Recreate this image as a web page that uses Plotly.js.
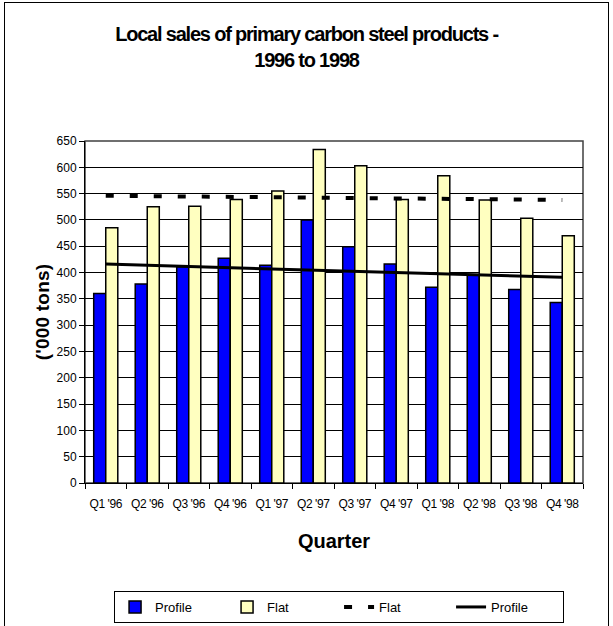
<!DOCTYPE html>
<html>
<head>
<meta charset="utf-8">
<script src="https://cdn.plot.ly/plotly-3.0.1.min.js"></script>
<style>
  html, body { margin: 0; padding: 0; overflow: hidden; background: #fff; width: 613px; height: 626px; }
  #frame { position: absolute; left: 4px; top: 2px; width: 603px; height: 660px; border: 1.5px solid #000; }
  #chart { width: 603px; height: 660px; }
  #chart .gtitle { letter-spacing: -1.2px; }
  #chart .ytitle { letter-spacing: 0.2px; }
  #chart .xtick text { letter-spacing: -0.4px; }
</style>
</head>
<body>
<div id="frame"><div id="chart"></div></div>
<script>
// Data ('000 tons)
const quarters = ["Q1 '96", "Q2 '96", "Q3 '96", "Q4 '96", "Q1 '97", "Q2 '97",
                  "Q3 '97", "Q4 '97", "Q1 '98", "Q2 '98", "Q3 '98", "Q4 '98"];
const profileSales = [360, 378, 411, 427, 414, 500, 449, 416, 372, 396, 368, 343];
const flatSales    = [485, 525, 526, 539, 555, 634, 603, 539, 584, 538, 503, 470];
// Linear trend lines: values read at first and last quarter
const trendQuarters = ["Q1 '96", "Q4 '98"];
const flatTrend     = [546, 538];
const profileTrend  = [416, 391];
const yTicks = [0, 50, 100, 150, 200, 250, 300, 350, 400, 450, 500, 550, 600, 650];

const FONT = "Liberation Sans, Arial, Helvetica, sans-serif";

const traces = [
  { type: 'bar', name: 'Profile', x: quarters, y: profileSales,
    marker: { color: '#0000FF', line: { color: '#000', width: 1.5 } } },
  { type: 'bar', name: 'Flat', x: quarters, y: flatSales,
    marker: { color: '#FFFFC0', line: { color: '#000', width: 1.5 } } },
  { type: 'scatter', mode: 'lines', name: 'Flat', x: trendQuarters, y: flatTrend,
    line: { color: '#000', width: 4, dash: '8px,16px' } },
  { type: 'scatter', mode: 'lines', name: 'Profile', x: trendQuarters, y: profileTrend,
    line: { color: '#000', width: 3 } }
];

const layout = {
  width: 603, height: 660,
  margin: { l: 80, r: 25, t: 138, b: 180 },
  paper_bgcolor: '#fff', plot_bgcolor: '#fff',
  font: { family: FONT, size: 12, color: '#000' },
  barmode: 'group', bargap: 0.42, bargroupgap: 0,
  title: {
    text: '<b>Local sales of primary carbon steel products -<br>1996 to 1998</b>',
    font: { family: FONT, size: 20, color: '#000' },
    x: 0.5, xref: 'container', xanchor: 'center',
    y: 1 - 38 / 660, yref: 'container', yanchor: 'top'
  },
  xaxis: {
    type: 'category', categoryorder: 'array', categoryarray: quarters,
    tickson: 'boundaries', ticks: 'outside', ticklen: 5, tickcolor: '#000',
    showline: true, linecolor: '#000', linewidth: 1, tickangle: 0,
    showgrid: false, zeroline: false, ticklabelstandoff: 10,
    tickfont: { family: FONT, size: 12, color: '#000' },
    title: { text: '<b>Quarter</b>', font: { family: FONT, size: 20, color: '#000' }, standoff: 23 }
  },
  yaxis: {
    range: [0, 650], tickvals: yTicks, ticks: 'outside', ticklen: 5, tickcolor: '#000',
    showline: true, linecolor: '#000', linewidth: 1,
    showgrid: true, gridcolor: '#000', gridwidth: 1, zeroline: false,
    tickfont: { family: FONT, size: 12, color: '#000' },
    title: { text: "<b>('000 tons)</b>", font: { family: FONT, size: 19, color: '#000' }, standoff: 1 }
  },
  shapes: [
    { type: 'rect', xref: 'paper', yref: 'paper', x0: 0, x1: 1, y0: 0, y1: 1,
      line: { color: '#404040', width: 1.5 }, layer: 'below' }
  ],
  showlegend: true,
  legend: {
    orientation: 'h', x: 0.554, xref: 'container', xanchor: 'center',
    y: 1 - 588 / 660, yref: 'container', yanchor: 'top',
    bordercolor: '#000', borderwidth: 1, bgcolor: '#fff',
    font: { family: FONT, size: 13, color: '#000' },
    traceorder: 'normal', entrywidth: 67, entrywidthmode: 'pixels', tracegroupgap: 0
  }
};

Plotly.newPlot('chart', traces, layout, { displayModeBar: false, staticPlot: true });
</script>
</body>
</html>
